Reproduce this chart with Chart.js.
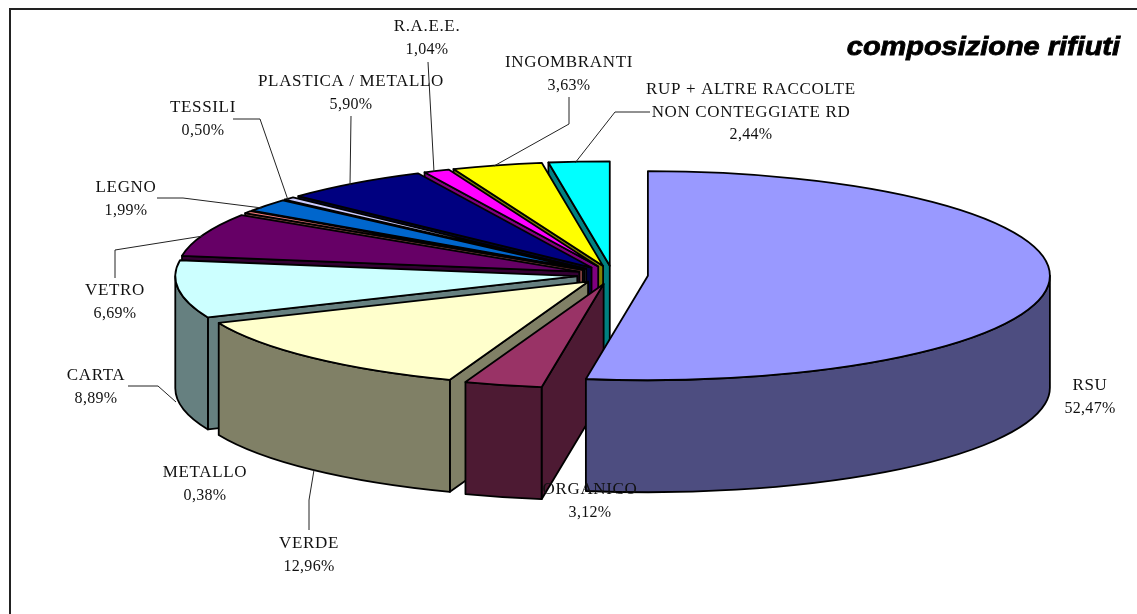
<!DOCTYPE html>
<html>
<head>
<meta charset="utf-8">
<title>composizione rifiuti</title>
<script src="https://cdn.jsdelivr.net/npm/chart.js@4"></script>
<style>
    html, body { margin: 0; padding: 0; background: #fff; }
    #wrap { width: 1137px; height: 614px; }
</style>
</head>
<body>
<div id="wrap"><canvas id="chartRifiuti" width="1137" height="614"></canvas></div>
<script>
var categories = ["RSU", "ORGANICO", "VERDE", "CARTA", "VETRO", "METALLO", "LEGNO", "TESSILI", "PLASTICA / METALLO", "R.A.E.E.", "INGOMBRANTI", "RUP + ALTRE RACCOLTE|NON CONTEGGIATE RD"];
var valori = [52.47, 3.12, 12.96, 8.89, 6.69, 0.38, 1.99, 0.50, 5.90, 1.04, 3.63, 2.44];
var coloriSopra = ["#9999FF", "#993366", "#FFFFCC", "#CCFFFF", "#660066", "#FF8080", "#0066CC", "#CCCCFF", "#000080", "#FF00FF", "#FFFF00", "#00FFFF"];
var coloriLato = ["#4D4D80", "#4D1A33", "#808066", "#668080", "#330033", "#804040", "#003366", "#666680", "#000040", "#800080", "#808000", "#008080"];
var titolo = "composizione rifiuti";

// posizione delle etichette: [x centro, y prima riga]
var posEtichette = [[1090, 386], [590, 490], [309, 544], [96, 376], [115, 291], [205, 473], [126, 188], [203, 108], [351, 82], [427, 27], [569, 63], [751, 90]];
// linee guida
var guide = [
    [[128, 386], [158, 386], [176, 402]],
    [[309, 530], [309, 500], [314, 470]],
    [[115, 278], [115, 250], [203, 236]],
    [[157, 198], [183, 198], [262, 208]],
    [[233, 119], [260, 119], [288, 200]],
    [[351, 116], [350, 185]],
    [[428, 62], [434, 172]],
    [[569, 97], [569, 124], [494, 166]],
    [[650, 112], [615, 112], [575, 163]]
];

var schiacciamento = 0.26; // altezza/larghezza dell'ellisse
var esplosione = 35.5;
var spessore = 112;

function formatta(v) {
    return v.toFixed(2).replace(".", ",") + "%";
}

var torta3d = {
    id: "torta3d",
    beforeDatasetsDraw: function (chart) {
        var ctx = chart.ctx;
        var archi = chart.getDatasetMeta(0).data;
        // dal fondo verso il davanti, RSU per ultimo
        for (var i = archi.length - 1; i >= 0; i--) {
            disegnaFetta(ctx, archi[i], coloriLato[i]);
        }
        return false;
    },
    afterDraw: function (chart) {
        var ctx = chart.ctx;
        ctx.save();
        // cornice: a destra e in basso esce dall'immagine
        ctx.strokeStyle = "#222";
        ctx.lineWidth = 2;
        ctx.beginPath();
        ctx.moveTo(10, 614);
        ctx.lineTo(10, 9);
        ctx.lineTo(1137, 9);
        ctx.stroke();

        ctx.lineWidth = 1;
        ctx.strokeStyle = "#222";
        guide.forEach(function (g) {
            ctx.beginPath();
            g.forEach(function (p, j) {
                if (j === 0) ctx.moveTo(p[0], p[1]); else ctx.lineTo(p[0], p[1]);
            });
            ctx.stroke();
        });

        ctx.fillStyle = "#111";
        ctx.textAlign = "center";
        ctx.textBaseline = "middle";
        categories.forEach(function (nome, i) {
            var righe = nome.split("|");
            ctx.font = "17px 'Liberation Serif'";
            ctx.letterSpacing = "0.65px";
            righe.forEach(function (r, j) {
                ctx.fillText(r, posEtichette[i][0], posEtichette[i][1] + j * 22.3);
            });
            ctx.font = "16px 'Liberation Serif'";
            ctx.letterSpacing = "0.3px";
            ctx.fillText(formatta(valori[i]), posEtichette[i][0], posEtichette[i][1] + righe.length * 22.3);
        });
        ctx.letterSpacing = "0px";

        // titolo allargato, il font originale e' piu' largo
        ctx.fillStyle = "#000";
        ctx.strokeStyle = "#000";
        ctx.lineWidth = 0.8;
        ctx.textAlign = "right";
        ctx.textBaseline = "alphabetic";
        ctx.font = "italic bold 25px 'Liberation Sans'";
        ctx.translate(1120, 55);
        ctx.scale(1.157, 1);
        ctx.strokeText(titolo, 0, 0);
        ctx.fillText(titolo, 0, 0);
        ctx.restore();
    }
};

function disegnaFetta(ctx, arco, coloreLato) {
    var s = arco.startAngle, e = arco.endAngle;
    var r = arco.outerRadius, k = schiacciamento;
    var h = (s + e) / 2;
    var ax = arco.x + esplosione * Math.cos(h);
    var ay = arco.y + esplosione * Math.sin(h) * k;
    var bordo = function (a) { return [ax + r * Math.cos(a), ay + r * k * Math.sin(a)]; };

    ctx.save();
    ctx.lineWidth = 1.8;
    ctx.lineJoin = "round";
    ctx.strokeStyle = "#000";
    ctx.fillStyle = coloreLato;

    // faccia di taglio sul lato iniziale
    if (Math.cos(s) < -1e-6) {
        faccia(ctx, ax, ay, bordo(s));
    }
    // faccia di taglio sul lato finale
    if (Math.cos(e) > 1e-6) {
        faccia(ctx, ax, ay, bordo(e));
    }
    // parete esterna, solo la parte davanti (angoli 0..PI)
    var a1 = Math.max(s, 0), a2 = Math.min(e, Math.PI);
    if (a2 > a1) {
        ctx.beginPath();
        ctx.ellipse(ax, ay, r, r * k, 0, a1, a2);
        ctx.ellipse(ax, ay + spessore, r, r * k, 0, a2, a1, true);
        ctx.closePath();
        ctx.fill();
        ctx.stroke();
    }

    // faccia superiore disegnata dall'elemento arc
    ctx.save();
    ctx.translate(ax, ay);
    ctx.scale(1, k);
    ctx.translate(-arco.x, -arco.y);
    arco.draw(ctx);
    ctx.restore();

    ctx.beginPath();
    ctx.moveTo(ax, ay);
    ctx.ellipse(ax, ay, r, r * k, 0, s, e);
    ctx.closePath();
    ctx.stroke();
    ctx.restore();
}

function faccia(ctx, ax, ay, p) {
    ctx.beginPath();
    ctx.moveTo(ax, ay);
    ctx.lineTo(p[0], p[1]);
    ctx.lineTo(p[0], p[1] + spessore);
    ctx.lineTo(ax, ay + spessore);
    ctx.closePath();
    ctx.fill();
    ctx.stroke();
}

var ctx1 = document.getElementById("chartRifiuti").getContext("2d");
new Chart(ctx1, {
    type: "pie",
    data: {
        labels: categories,
        datasets: [{
            data: valori,
            backgroundColor: coloriSopra,
            borderWidth: 0
        }]
    },
    options: {
        responsive: false,
        animation: false,
        radius: 402,
        layout: { padding: { left: 88, bottom: 64 } },
        plugins: { legend: { display: false }, tooltip: { enabled: false } }
    },
    plugins: [torta3d]
});
</script>
</body>
</html>
